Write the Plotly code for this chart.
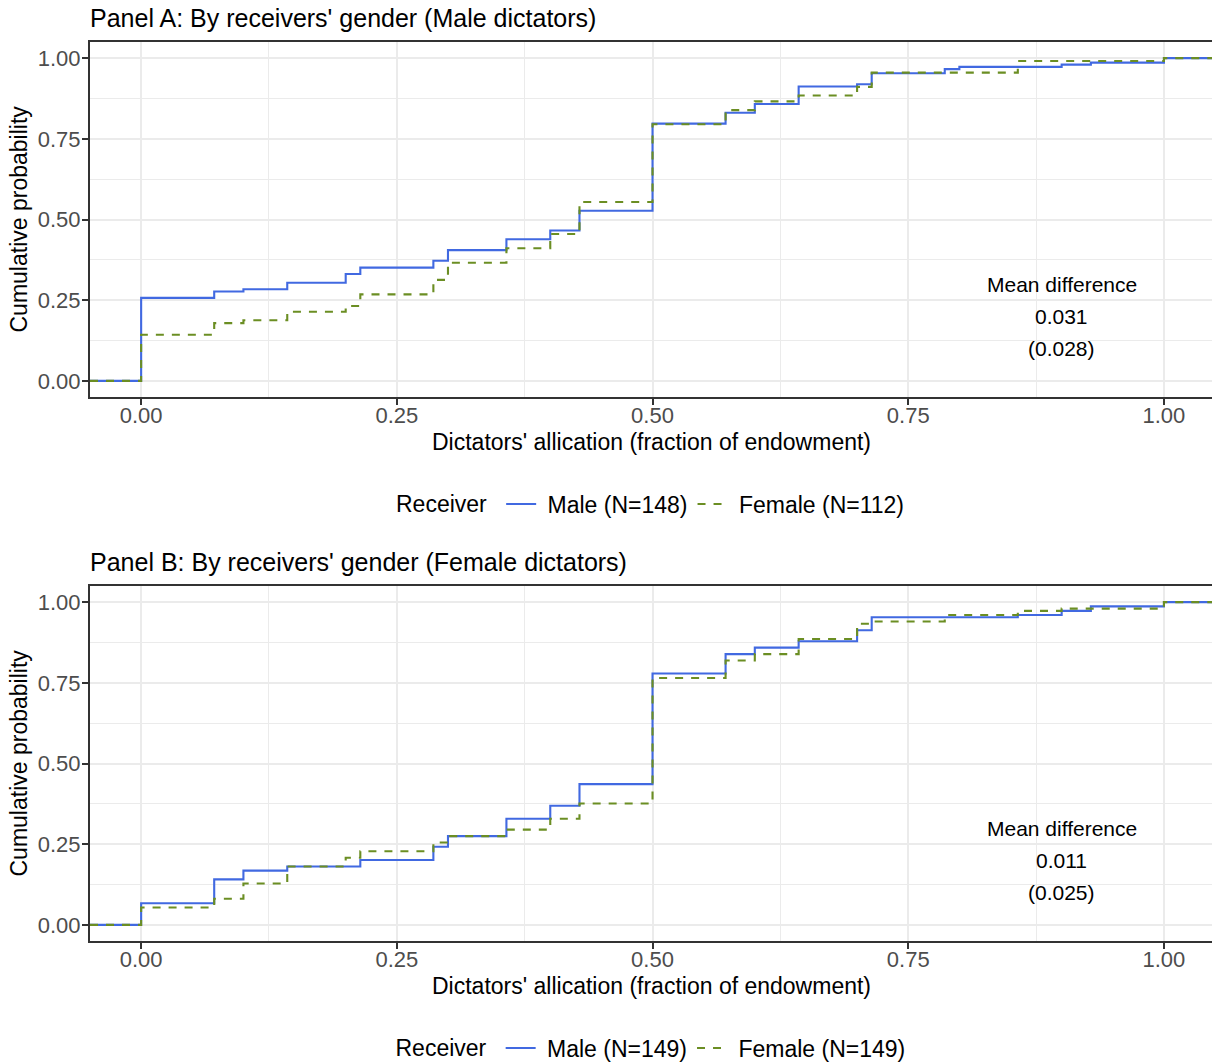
import plotly.graph_objects as go

W, H = 1212, 1062

# ---------------- data ----------------
A_MALE_X = [0, 1/14, 0.1, 1/7, 0.2, 3/14, 2/7, 0.3, 5/14, 0.4, 3/7, 0.5, 4/7, 0.6, 9/14, 0.7, 5/7, 11/14, 0.8, 0.9, 13/14, 1.0]
A_MALE_Y = [0.257, 0.277, 0.284, 0.304, 0.331, 0.351, 0.372, 0.405, 0.439, 0.466, 0.527, 0.797, 0.831, 0.858, 0.912, 0.919, 0.953, 0.966, 0.973, 0.980, 0.986, 1.0]
A_FEM_X = [0, 1/14, 0.1, 1/7, 0.2, 3/14, 2/7, 0.3, 5/14, 0.4, 3/7, 0.5, 4/7, 0.6, 9/14, 0.7, 5/7, 6/7, 1.0]
A_FEM_Y = [0.143, 0.179, 0.188, 0.214, 0.232, 0.268, 0.313, 0.366, 0.411, 0.455, 0.554, 0.795, 0.839, 0.866, 0.884, 0.911, 0.955, 0.991, 1.0]

B_MALE_X = [0, 1/14, 0.1, 1/7, 3/14, 2/7, 0.3, 5/14, 0.4, 3/7, 0.5, 4/7, 0.6, 9/14, 0.7, 5/7, 6/7, 0.9, 13/14, 1.0]
B_MALE_Y = [0.067, 0.141, 0.168, 0.181, 0.201, 0.242, 0.275, 0.329, 0.369, 0.436, 0.779, 0.839, 0.859, 0.879, 0.913, 0.953, 0.960, 0.973, 0.987, 1.0]
B_FEM_X = [0, 1/14, 0.1, 1/7, 0.2, 3/14, 2/7, 0.3, 5/14, 0.4, 3/7, 0.5, 4/7, 0.6, 9/14, 0.7, 5/7, 11/14, 6/7, 0.9, 1.0]
B_FEM_Y = [0.054, 0.081, 0.128, 0.181, 0.208, 0.228, 0.255, 0.275, 0.295, 0.329, 0.376, 0.765, 0.819, 0.839, 0.886, 0.933, 0.940, 0.960, 0.973, 0.980, 1.0]

PANEL_TITLES = ["Panel A: By receivers' gender (Male dictators)",
                "Panel B: By receivers' gender (Female dictators)"]
MALE_NAMES = ["Male (N=148)", "Male (N=149)"]
FEMALE_NAMES = ["Female (N=112)", "Female (N=149)"]
MEAN_DIFF = ["0.031", "0.011"]
MEAN_SE = ["(0.028)", "(0.025)"]
TICKS = [0, 0.25, 0.5, 0.75, 1.0]
TICK_TEXT = ["0.00", "0.25", "0.50", "0.75", "1.00"]

X_RANGE = [-0.05, 1.047]
Y_RANGE = [-0.05, 1.05]

# ---------------- styling ----------------
FONT = "Liberation Sans, Arial, Helvetica, sans-serif"
BLUE = "#4169E1"
GREEN = "#6B8E23"
DARK = "#333333"
GRID = "#EBEBEB"
NBSP = "\u00a0"


def px(x):
    return x / W


def py(y):
    return 1 - y / H


panels = [
    dict(top=42, bottom=397, title_y=18, xtitle_y=442, legend_y=504,
         male=(A_MALE_X, A_MALE_Y), fem=(A_FEM_X, A_FEM_Y)),
    dict(top=586, bottom=941, title_y=562, xtitle_y=986, legend_y=1048,
         male=(B_MALE_X, B_MALE_Y), fem=(B_FEM_X, B_FEM_Y)),
]

fig = go.Figure()
annotations = []
layout_axes = {}

for i, p in enumerate(panels):
    sfx = "" if i == 0 else str(i + 1)
    xa, ya = "x" + sfx, "y" + sfx
    leg = "legend" + sfx

    mx, my = p["male"]
    fx, fy = p["fem"]
    fig.add_trace(go.Scatter(
        x=[X_RANGE[0]] + mx + [X_RANGE[1] + 0.01], y=[0] + my + [my[-1]],
        mode="lines", line=dict(color=BLUE, width=2.1, shape="hv"),
        name=NBSP + MALE_NAMES[i], xaxis=xa, yaxis=ya, legend=leg, cliponaxis=True))
    fig.add_trace(go.Scatter(
        x=[X_RANGE[0]] + fx + [X_RANGE[1] + 0.01], y=[0] + fy + [fy[-1]],
        mode="lines", line=dict(color=GREEN, width=2.1, shape="hv", dash="8px,8px"),
        name=NBSP + FEMALE_NAMES[i], xaxis=xa, yaxis=ya, legend=leg, cliponaxis=True))

    ydom = [py(p["bottom"]), py(p["top"])]
    common = dict(
        showgrid=True, gridcolor=GRID, gridwidth=2.1,
        zeroline=False, showline=True, linecolor=DARK, linewidth=2,
        ticks="outside", ticklen=6, tickwidth=2, tickcolor=DARK,
        tickvals=TICKS, ticktext=TICK_TEXT,
        tickfont=dict(family=FONT, size=22, color="#4D4D4D"),
        minor=dict(tickvals=[0.125, 0.375, 0.625, 0.875], showgrid=True,
                   gridcolor=GRID, gridwidth=1.1, ticks=""),
    )
    layout_axes["xaxis" + sfx] = dict(common, domain=[px(90), 1.0], range=X_RANGE,
                                      anchor=ya, mirror=True, ticklabelstandoff=-8)
    layout_axes["yaxis" + sfx] = dict(common, domain=ydom, range=Y_RANGE,
                                      anchor=xa, mirror=False, ticklabelstandoff=-3)

    # panel title
    annotations.append(dict(text=PANEL_TITLES[i], xref="paper", yref="paper",
                            x=px(90), y=py(p["title_y"]), xanchor="left", yanchor="middle",
                            xshift=-2, showarrow=False,
                            font=dict(family=FONT, size=25, color="black")))
    # x-axis title
    annotations.append(dict(text="Dictators' allication (fraction of endowment)",
                            xref="paper", yref="paper",
                            x=px((90 + 1212) / 2), y=py(p["xtitle_y"]),
                            xanchor="center", yanchor="middle", showarrow=False,
                            font=dict(family=FONT, size=23, color="black")))
    # y-axis title
    annotations.append(dict(text="Cumulative probability", xref="paper", yref="paper",
                            x=px(18), y=py((p["top"] + p["bottom"]) / 2), textangle=-90,
                            xanchor="center", yanchor="middle", showarrow=False,
                            font=dict(family=FONT, size=23, color="black")))
    # mean difference texts (data coords)
    for txt, yv in zip(["Mean difference", MEAN_DIFF[i], MEAN_SE[i]], [0.3, 0.2, 0.1]):
        annotations.append(dict(text=txt, xref=xa, yref=ya, x=0.9, y=yv,
                                xanchor="center", yanchor="middle", showarrow=False,
                                font=dict(family=FONT, size=21, color="black")))

    layout_axes[leg] = dict(
        orientation="h", x=px(652), y=py(p["legend_y"]), xanchor="center", yanchor="middle",
        title=dict(text="Receiver" + NBSP, side="left",
                   font=dict(family=FONT, size=23, color="black")),
        font=dict(family=FONT, size=23, color="black"), bgcolor="rgba(0,0,0,0)",
        itemwidth=30, tracegroupgap=0)

fig.update_layout(
    width=W, height=H, margin=dict(l=0, r=0, t=0, b=0, autoexpand=False),
    paper_bgcolor="white", plot_bgcolor="white",
    showlegend=True, annotations=annotations,
    **layout_axes,
)

fig.write_html("out.html")
